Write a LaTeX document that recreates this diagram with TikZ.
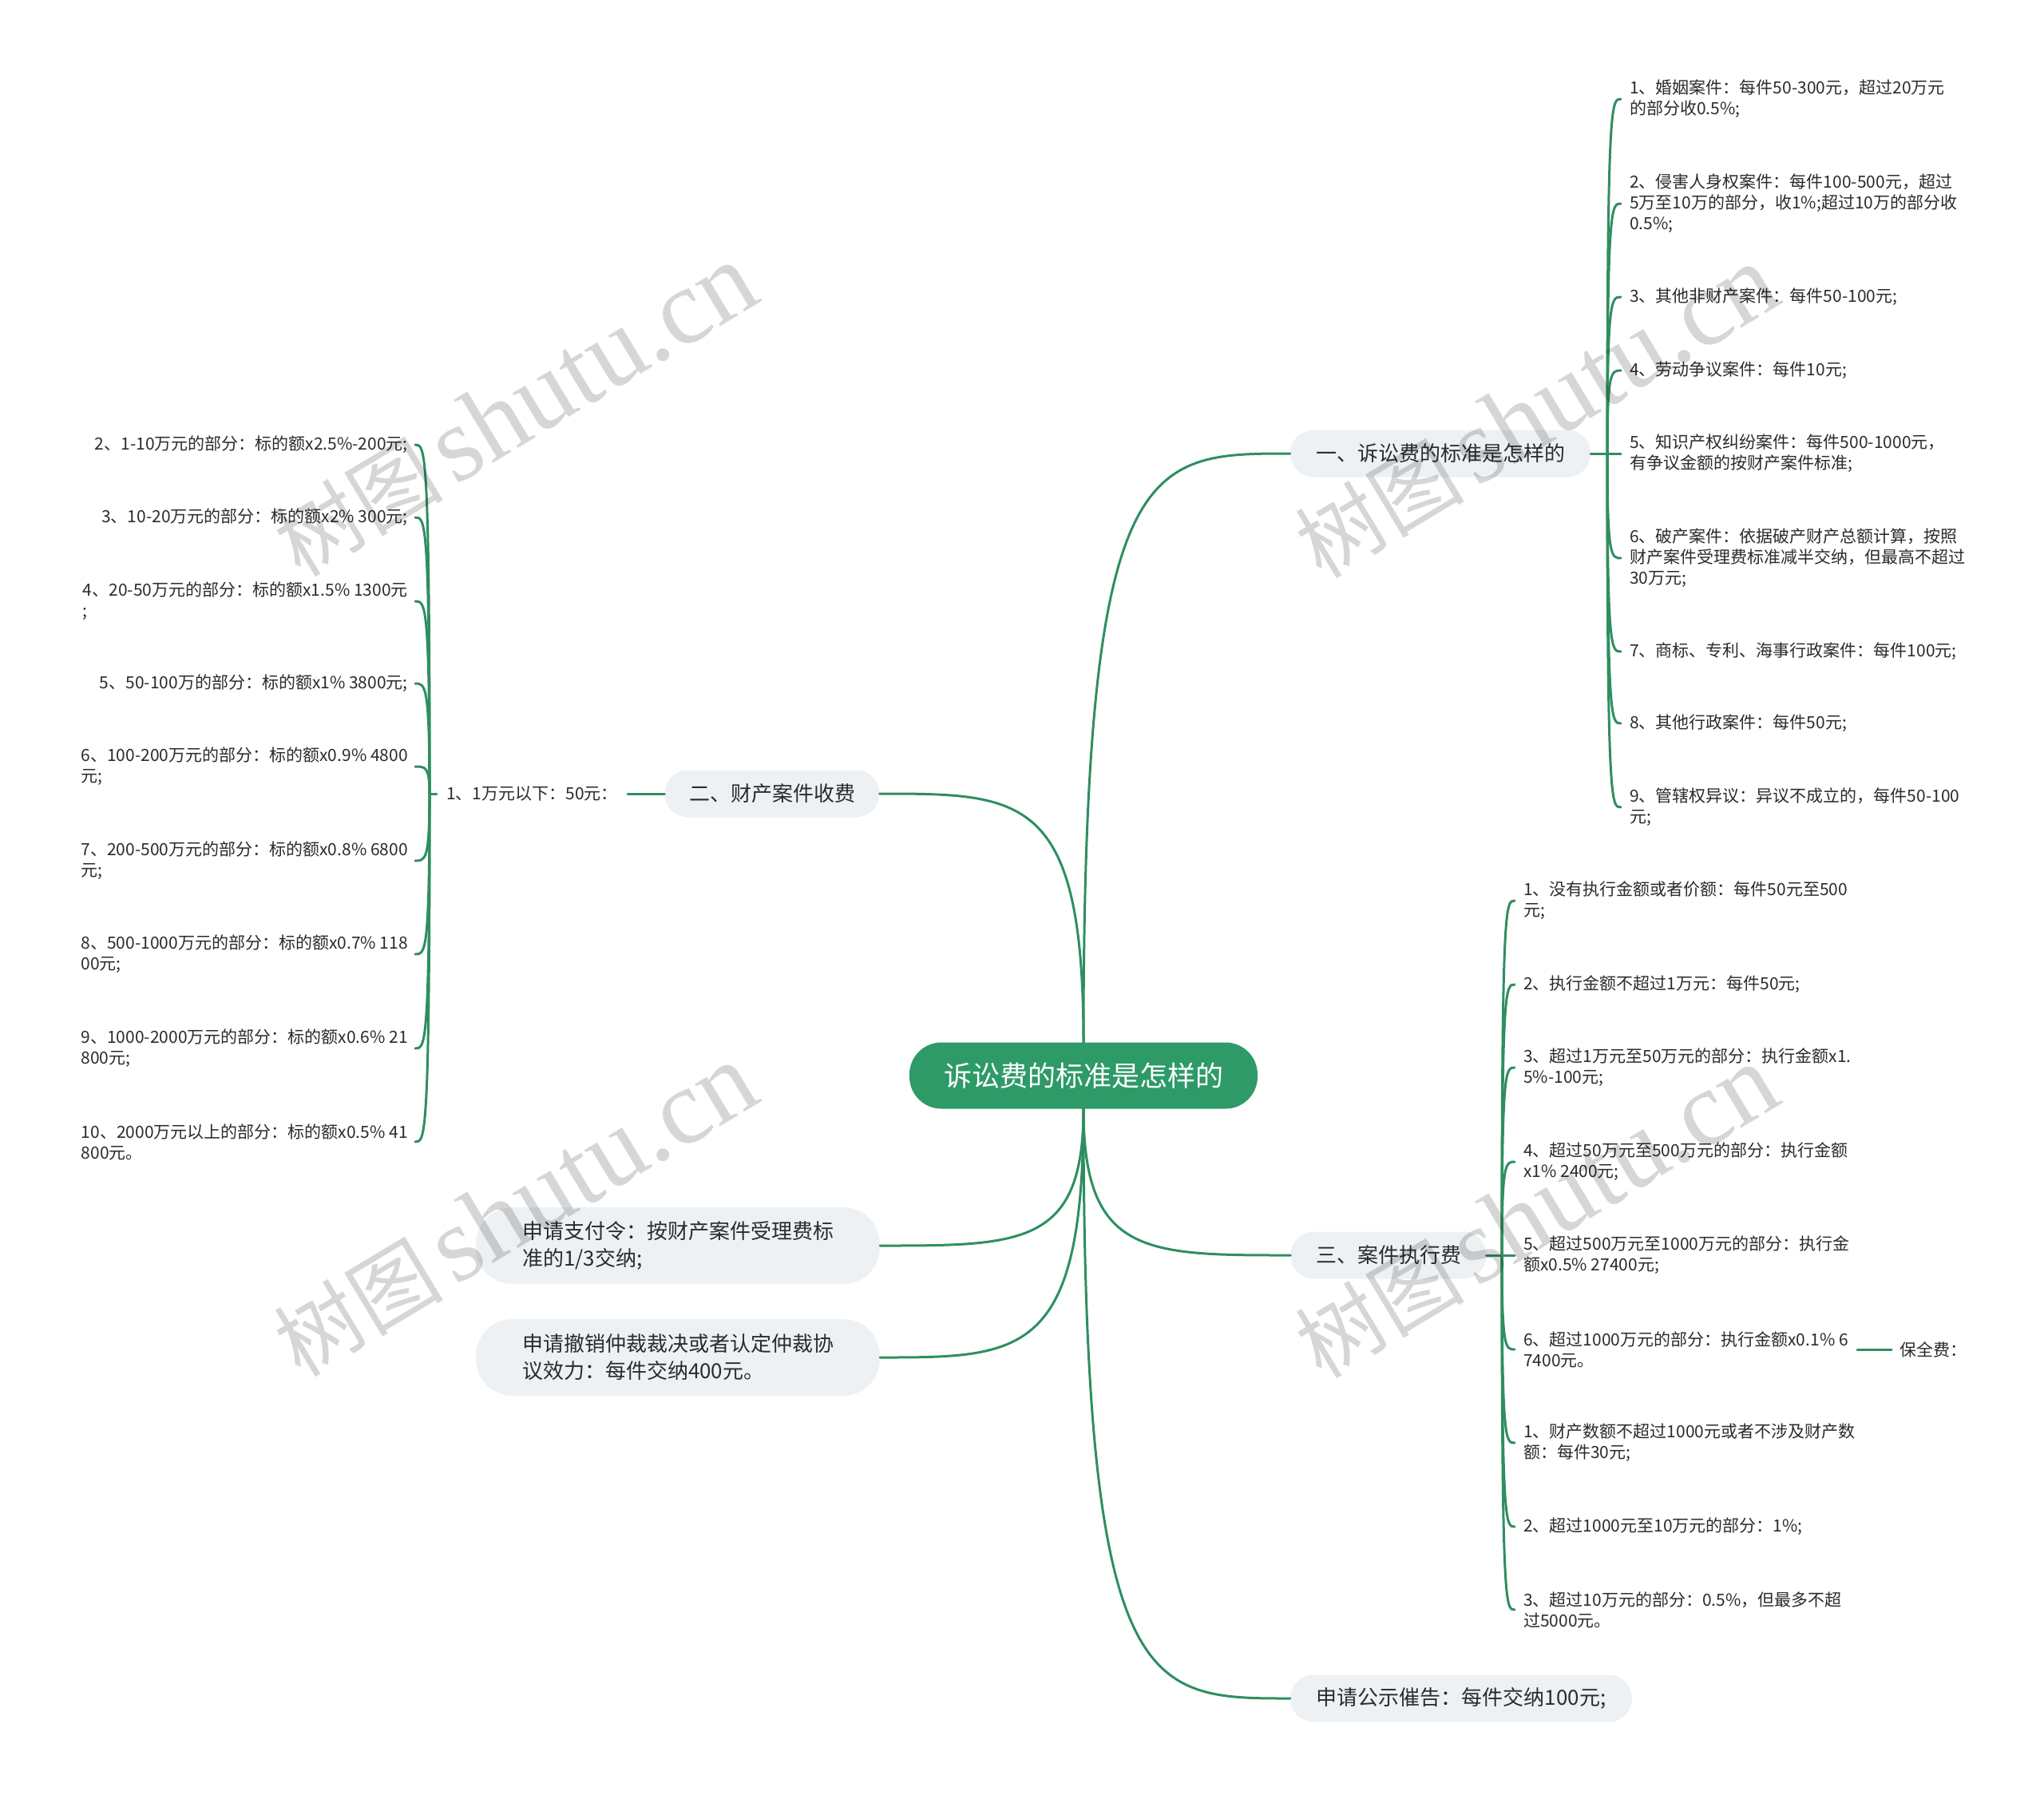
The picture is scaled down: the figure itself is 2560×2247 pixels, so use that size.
\documentclass[tikz,border=0pt]{standalone}
\usepackage{fontspec}
\setmainfont{Noto Sans CJK SC}
\newfontfamily\wmserif{Liberation Serif}
\usetikzlibrary{calc}
\definecolor{lc}{HTML}{2F8E60}
\definecolor{rootc}{HTML}{2E9A68}
\definecolor{pillc}{HTML}{EEF1F4}
\definecolor{txtc}{HTML}{2B2B2B}
\definecolor{wmc}{HTML}{D6D6D6}
\newcommand{\wmtext}{{\fontsize{106}{116}\selectfont 树图}\hspace{14pt}{\wmserif\fontsize{134}{136}\selectfont shutu.cn}}
\begin{document}
\begin{tikzpicture}[x=1pt,y=-1pt,
  conn/.style={draw=lc, line width=3pt, line cap=round},
  curve/.style={to path={.. controls (\tikztostart |- \tikztotarget) and ($(\tikztostart |- \tikztotarget)!0.3!(\tikztotarget)$) .. (\tikztotarget)}},
  rootbox/.style={fill=rootc, text=white, rounded corners=40pt, minimum width=436pt, minimum height=83pt, inner sep=0pt, font=\fontsize{35}{42}\selectfont},
  topic/.style={fill=pillc, text=txtc, rounded corners=29pt, minimum height=59pt, inner sep=0pt, font=\fontsize{26}{34}\selectfont},
  bigtopic/.style={fill=pillc, text=txtc, rounded corners=46pt, minimum width=506pt, minimum height=96pt, inner sep=0pt, align=left, font=\fontsize{26}{34}\selectfont},
  leafR/.style={anchor=west, align=left, text=txtc, inner xsep=11pt, inner ysep=2pt, font=\fontsize{21}{26}\selectfont},
  leafL/.style={anchor=east, align=left, text=txtc, inner xsep=9pt, inner ysep=2pt, font=\fontsize{21}{26}\selectfont},
  wm/.style={text=wmc, rotate=31, inner sep=0pt}
]
\useasboundingbox (0,0) rectangle (2560,2247);
\fill[white] (0,0) rectangle (2560,2247);

% root and main topics
\node[rootbox] (root) at (1357,1347) {诉讼费的标准是怎样的};
\node[topic, minimum width=376pt] (A) at (1804,568) {一、诉讼费的标准是怎样的};
\node[topic, minimum width=269pt] (B) at (967,994) {二、财产案件收费};
\node[topic, minimum width=245pt] (C) at (1739,1572) {三、案件执行费};
\node[bigtopic] (D) at (849,1560) {申请支付令：按财产案件受理费标\\准的1/3交纳;};
\node[bigtopic] (E) at (849,1700) {申请撤销仲裁裁决或者认定仲裁协\\议效力：每件交纳400元。};
\node[topic, minimum width=428pt] (F) at (1830,2127) {申请公示催告：每件交纳100元;};

\draw[conn] (root.north) to[curve] (A.west);
\draw[conn] (root.north) to[curve] (B.east);
\draw[conn] (root.south) to[curve] (C.west);
\draw[conn] (root.south) to[curve] (D.east);
\draw[conn] (root.south) to[curve] (E.east);
\draw[conn] (root.south) to[curve] (F.west);

% branch A leaves
\node[leafR] (a1) at (2030,124) {1、婚姻案件：每件50-300元，超过20万元\\的部分收0.5\%;};
\node[leafR] (a2) at (2030,255) {2、侵害人身权案件：每件100-500元，超过\\5万至10万的部分，收1\%;超过10万的部分收\\0.5\%;};
\node[leafR] (a3) at (2030,372) {3、其他非财产案件：每件50-100元;};
\node[leafR] (a4) at (2030,464) {4、劳动争议案件：每件10元;};
\node[leafR] (a5) at (2030,568) {5、知识产权纠纷案件：每件500-1000元，\\有争议金额的按财产案件标准;};
\node[leafR] (a6) at (2030,699) {6、破产案件：依据破产财产总额计算，按照\\财产案件受理费标准减半交纳，但最高不超过\\30万元;};
\node[leafR] (a7) at (2030,816) {7、商标、专利、海事行政案件：每件100元;};
\node[leafR] (a8) at (2030,906) {8、其他行政案件：每件50元;};
\node[leafR] (a9) at (2030,1011) {9、管辖权异议：异议不成立的，每件50-100\\元;};
\coordinate (Aj) at (2013,568);
\draw[conn] (A.east) -- (a5.west);
\foreach \n in {a1,a2,a3,a4,a6,a7,a8,a9} \draw[conn] (Aj) to[curve] (\n.west);

% branch C leaves
\node[leafR] (c1) at (1897,1128) {1、没有执行金额或者价额：每件50元至500\\元;};
\node[leafR] (c2) at (1897,1233) {2、执行金额不超过1万元：每件50元;};
\node[leafR] (c3) at (1897,1337) {3、超过1万元至50万元的部分：执行金额x1.\\5\%-100元;};
\node[leafR] (c4) at (1897,1455) {4、超过50万元至500万元的部分：执行金额\\x1\% 2400元;};
\node[leafR] (c5) at (1897,1572) {5、超过500万元至1000万元的部分：执行金\\额x0.5\% 27400元;};
\node[leafR] (c6) at (1897,1690) {6、超过1000万元的部分：执行金额x0.1\% 6\\7400元。};
\node[leafR] (c7) at (1897,1807) {1、财产数额不超过1000元或者不涉及财产数\\额：每件30元;};
\node[leafR] (c8) at (1897,1912) {2、超过1000元至10万元的部分：1\%;};
\node[leafR] (c9) at (1897,2016) {3、超过10万元的部分：0.5\%，但最多不超\\过5000元。};
\node[leafR, inner xsep=10pt] (bq) at (2369,1690) {保全费：};
\coordinate (Cj) at (1881,1572);
\draw[conn] (C.east) -- (c5.west);
\foreach \n in {c1,c2,c3,c4,c6,c7,c8,c9} \draw[conn] (Cj) to[curve] (\n.west);
\draw[conn] (c6.east) -- (bq.west);

% branch B leaves
\node[leafL, inner xsep=12pt] (b0) at (786,994) {1、1万元以下：50元：};
\node[leafL] (b1) at (520,557) {2、1-10万元的部分：标的额x2.5\%-200元;};
\node[leafL] (b2) at (520,648) {3、10-20万元的部分：标的额x2\% 300元;};
\node[leafL] (b3) at (520,753) {4、20-50万元的部分：标的额x1.5\% 1300元\\;};
\node[leafL] (b4) at (520,856) {5、50-100万的部分：标的额x1\% 3800元;};
\node[leafL] (b5) at (520,960) {6、100-200万元的部分：标的额x0.9\% 4800\\元;};
\node[leafL] (b6) at (520,1078) {7、200-500万元的部分：标的额x0.8\% 6800\\元;};
\node[leafL] (b7) at (520,1195) {8、500-1000万元的部分：标的额x0.7\% 118\\00元;};
\node[leafL] (b8) at (520,1313) {9、1000-2000万元的部分：标的额x0.6\% 21\\800元;};
\node[leafL] (b9) at (520,1430) {10、2000万元以上的部分：标的额x0.5\% 41\\800元。};
\coordinate (Bj) at (538,994);
\draw[conn] (B.west) -- (b0.east);
\draw[conn] (b0.west) -- (Bj);
\foreach \n in {b1,b2,b3,b4,b5,b6,b7,b8,b9} \draw[conn] (Bj) to[curve] (\n.east);

% watermarks
\begin{scope}[blend mode=multiply]
\node[wm] (w1) at (645,514) {\wmtext};
\node[wm] (w2) at (645,1516) {\wmtext};
\node[wm] (w3) at (1924,516) {\wmtext};
\node[wm] (w4) at (1924,1518) {\wmtext};
\end{scope}
\end{tikzpicture}
\end{document}
